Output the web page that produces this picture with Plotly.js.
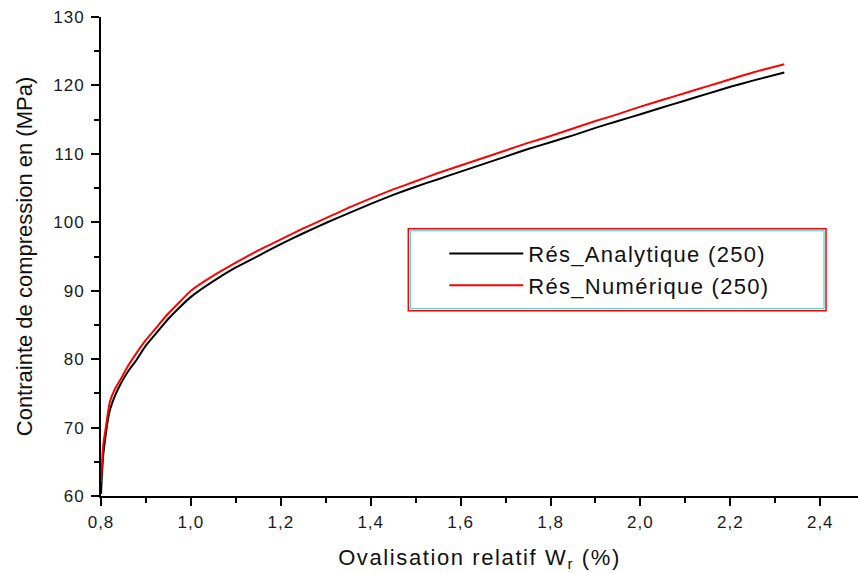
<!DOCTYPE html>
<html>
<head>
<meta charset="utf-8">
<script src="https://cdn.plot.ly/plotly-3.0.1.min.js"></script>
<style>
html,body{margin:0;padding:0;background:#fff;}
#chart{width:858px;height:573px;}
#chart .xtick text, #chart .ytick text {letter-spacing:1px;}
#chart .legendtext {letter-spacing:1.3px;}
#chart .xtitle {letter-spacing:1.6px;}
#chart .legend .scrollbox, #chart .legend {clip-path:none !important;}
</style>
</head>
<body>
<div id="chart"></div>
<script>
var xValues = [0.800,0.802,0.805,0.810,0.815,0.820,0.830,0.843,0.860,0.877,0.900,0.928,0.950,0.977,1.000,1.050,1.100,1.150,1.200,1.250,1.300,1.350,1.400,1.450,1.500,1.550,1.600,1.650,1.700,1.750,1.800,1.850,1.900,1.950,2.000,2.050,2.100,2.150,2.200,2.250,2.320];
var analytique = [60.3,63.0,66.0,68.7,71.0,72.6,74.5,76.3,78.2,79.7,82.0,84.2,85.9,87.7,89.1,91.4,93.4,95.1,96.8,98.4,99.9,101.3,102.7,104.0,105.2,106.3,107.4,108.5,109.6,110.7,111.7,112.7,113.8,114.8,115.8,116.8,117.8,118.8,119.8,120.7,121.9];
var numerique = [62.0,64.5,67.5,69.7,72.0,73.8,75.5,77.0,79.0,80.7,82.8,85.0,86.7,88.5,90.0,92.2,94.1,95.9,97.5,99.1,100.6,102.1,103.5,104.8,106.0,107.2,108.3,109.4,110.5,111.6,112.6,113.7,114.8,115.8,116.9,117.9,118.9,119.9,120.9,121.9,123.1];
var seriesNames = ["Rés_Analytique (250)", "Rés_Numérique (250)"];
var xTitle = "Ovalisation relatif W<sub>r</sub> (%)";
var yTitle = "Contrainte de compression en (MPa)";

var font = "Arial, 'Liberation Sans', sans-serif";
var traces = [
  {x: xValues, y: analytique, type: "scatter", mode: "lines", name: seriesNames[0], legendgroup: "a",
   line: {color: "#000000", width: 2, shape: "spline", smoothing: 0.5}},
  {x: xValues, y: numerique, type: "scatter", mode: "lines", name: seriesNames[1], legendgroup: "b",
   line: {color: "#ff0000", width: 2, shape: "spline", smoothing: 0.5}}
];

var layout = {
  width: 858, height: 573,
  margin: {l: 100.5, r: 0, t: 17, b: 76.5, pad: 0},
  paper_bgcolor: "#ffffff", plot_bgcolor: "#ffffff",
  separators: ", ",
  font: {family: font, color: "#1a1a1a", size: 17},
  showlegend: true,
  legend: {
    x: 0.4535, y: 0.5495, xanchor: "left", yanchor: "top",
    bgcolor: "rgba(0,0,0,0)", borderwidth: 0,
    font: {family: font, size: 22, color: "#111111"},
    itemwidth: 74, tracegroupgap: 3.5, traceorder: "normal"
  },
  xaxis: {
    range: [0.8, 2.484], showgrid: false, zeroline: false,
    showline: true, linecolor: "#000", linewidth: 2,
    ticks: "outside", ticklen: 8, tickwidth: 2, tickcolor: "#000",
    tick0: 0.8, dtick: 0.2, tickformat: ".1f", ticklabelstandoff: 2,
    minor: {ticks: "outside", ticklen: 5, tickwidth: 2, tickcolor: "#000", dtick: 0.1, tick0: 0.8, showgrid: false},
    tickfont: {family: font, size: 17, color: "#1a1a1a"},
    title: {text: xTitle, font: {family: font, size: 22, color: "#111"}, standoff: 18}
  },
  yaxis: {
    range: [60, 130], showgrid: false, zeroline: false,
    showline: true, linecolor: "#000", linewidth: 2,
    ticks: "outside", ticklen: 8, tickwidth: 2, tickcolor: "#000",
    tick0: 60, dtick: 10, ticklabelstandoff: 3,
    minor: {ticks: "outside", ticklen: 5, tickwidth: 2, tickcolor: "#000", dtick: 5, tick0: 60, showgrid: false},
    tickfont: {family: font, size: 17, color: "#1a1a1a"},
    title: {text: yTitle, font: {family: font, size: 22, color: "#111"}, standoff: 18}
  },
  shapes: [
    {type: "rect", xref: "paper", yref: "paper", x0: (408 - 100.5) / 757.5, x1: (826 - 100.5) / 757.5,
     y0: (496.5 - 311) / 479.5, y1: (496.5 - 229) / 479.5, line: {color: "#ff0000", width: 1.5}},
    {type: "rect", xref: "paper", yref: "paper", x0: (410 - 100.5) / 757.5, x1: (824 - 100.5) / 757.5,
     y0: (496.5 - 309) / 479.5, y1: (496.5 - 231) / 479.5, line: {color: "#33cccc", width: 1}}
  ]
};

Plotly.newPlot("chart", traces, layout, {displayModeBar: false, staticPlot: true});
</script>
</body>
</html>
